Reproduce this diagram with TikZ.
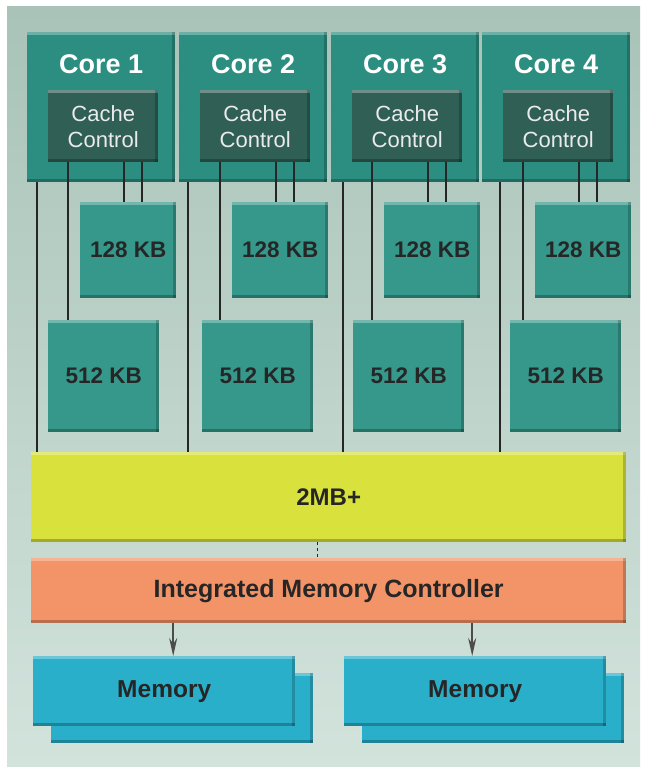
\documentclass[tikz,border=0pt]{standalone}
\usepackage{fontspec}
\setmainfont{Liberation Sans}
\usetikzlibrary{arrows.meta}
\definecolor{panel}{HTML}{A9C3B8}
\definecolor{panellow}{HTML}{D2E3DC}
\definecolor{coreteal}{HTML}{2C8E80}
\definecolor{cachegreen}{HTML}{2F5F55}
\definecolor{kbteal}{HTML}{35988A}
\definecolor{llyellow}{HTML}{D9E23C}
\definecolor{imcorange}{HTML}{F39468}
\definecolor{memblue}{HTML}{2AAFCB}
\tikzset{
	box/.style={anchor=north west,inner sep=0pt,align=center,
		path picture={
			\fill[white,opacity=.3] (path picture bounding box.north west) rectangle ([yshift=-3pt]path picture bounding box.north east);
			\fill[black,opacity=.25] (path picture bounding box.south west) rectangle ([yshift=3pt]path picture bounding box.south east);
			\fill[black,opacity=.2] (path picture bounding box.north east) rectangle ([xshift=-3pt]path picture bounding box.south east);
		}},
	corelabel/.style={text=white,font=\fontsize{27}{31}\selectfont\bfseries},
	cachebox/.style={box,fill=cachegreen,text=white!92!black,minimum width=110pt,minimum height=72pt,font=\fontsize{22}{26}\selectfont},
	kbbox/.style={box,fill=kbteal,text=black!85,font=\fontsize{22.5}{26}\selectfont\bfseries},
	bigbar/.style={box,minimum width=595pt,text=black!85,font=\fontsize{24}{28}\selectfont\bfseries},
	membox/.style={box,fill=memblue,minimum width=262pt,minimum height=70pt,text=black!85,font=\fontsize{24.5}{28}\selectfont\bfseries},
	wire/.style={draw=black!85,line width=1.1pt},
	memarrow/.style={draw=black!70,line width=1.8pt,-{Stealth[length=18pt,width=8pt]}}
}
\begin{document}
\begin{tikzpicture}[x=1pt,y=-1pt]
	\useasboundingbox (0,0) rectangle (646,770);
	\fill[white] (0,0) rectangle (646,770);
	\shade[top color=panel,bottom color=panellow] (7,7) rectangle (640,766);
	\node[bigbar,fill=llyellow,minimum height=90pt] (l3) at (31,452) {2MB+};
	\node[bigbar,fill=imcorange,minimum height=65pt,font=\fontsize{25}{29}\selectfont\bfseries] (imc) at (31,558) {Integrated Memory Controller};
	\foreach \i/\x/\b/\m in {1/27/10/21,2/179/9/23,3/331/12/22,4/482/18/28}{
		\node[box,fill=coreteal,minimum width=148pt,minimum height=150pt] (core\i) at (\x,32) {};
		\node[corelabel] (ct\i) at ([yshift=-32pt]core\i.north) {Core \i};
		\node[cachebox] (cc\i) at (\x+21,90) {Cache\\Control};
		\node[kbbox,minimum width=96pt,minimum height=96pt] (k\i) at (\x+53,202) {128 KB};
		\node[kbbox,minimum width=111pt,minimum height=112pt] (m\i) at (\x+\m,320) {512 KB};
		\draw[wire] ([xshift=\b pt]core\i.south west) -- ([xshift=\b pt]core\i.south west |- l3.north);
		\draw[wire] ([xshift=20pt]cc\i.south west) -- ([xshift=20pt]cc\i.south west |- m\i.north);
		\draw[wire] ([xshift=44pt]k\i.north west |- cc\i.south) -- ([xshift=44pt]k\i.north west);
		\draw[wire] ([xshift=62pt]k\i.north west |- cc\i.south) -- ([xshift=62pt]k\i.north west);
	}
	\draw[wire,dashed] ([xshift=-11pt]l3.south) -- ([xshift=-11pt]imc.north);
	\node[membox] (mem1b) at (51,673) {};
	\node[membox] (mem1) at (33,656) {Memory};
	\node[membox] (mem2b) at (362,673) {};
	\node[membox] (mem2) at (344,656) {Memory};
	\draw[memarrow] ([xshift=9pt]mem1.north |- imc.south) -- ([xshift=9pt]mem1.north);
	\draw[memarrow] ([xshift=-3pt]mem2.north |- imc.south) -- ([xshift=-3pt]mem2.north);
\end{tikzpicture}
\end{document}
